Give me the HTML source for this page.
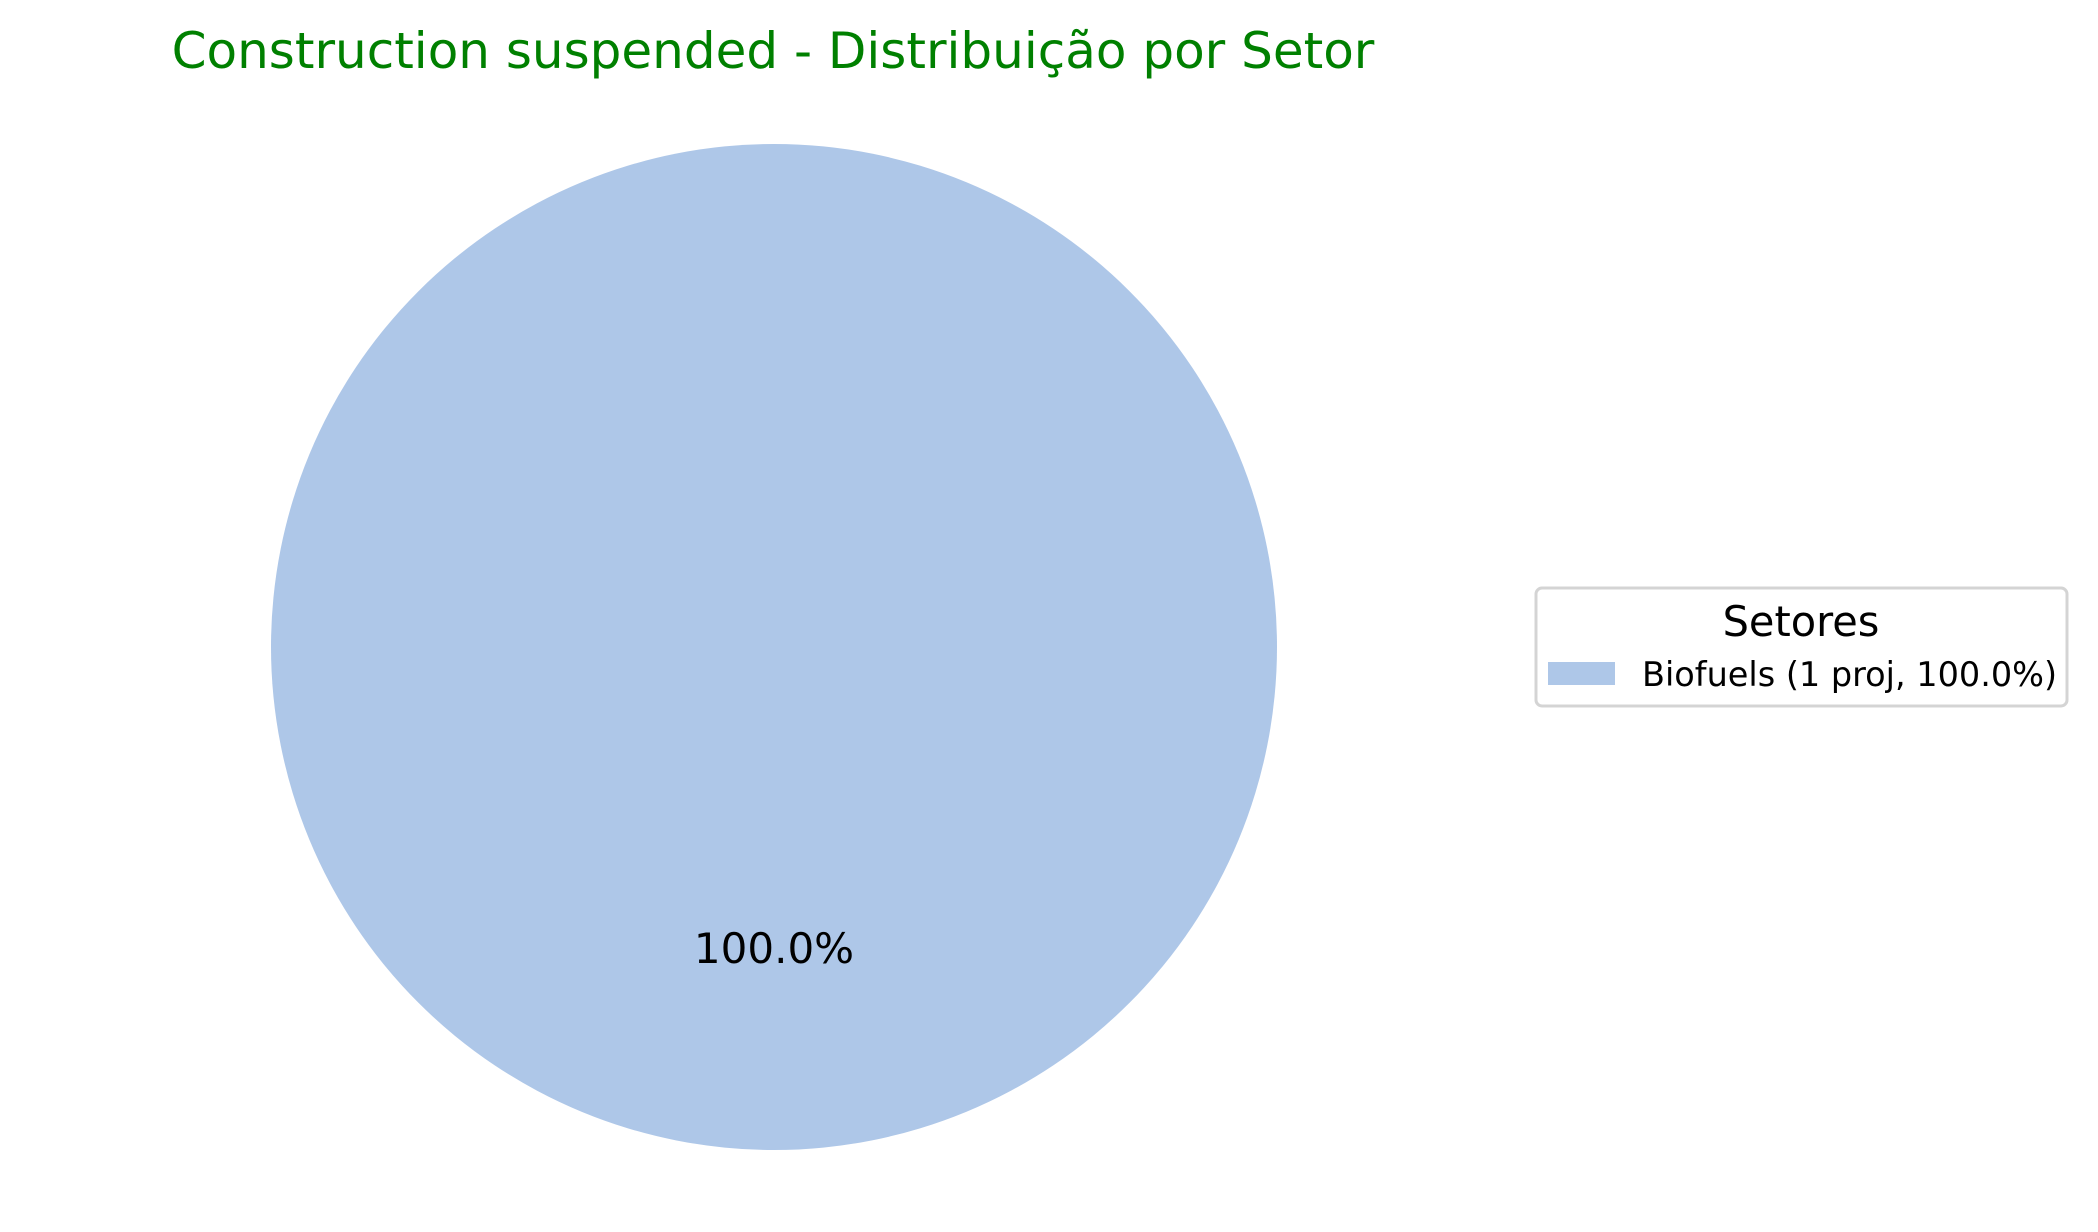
<!DOCTYPE html>
<html><head><meta charset="utf-8"><style>
html,body{margin:0;padding:0;background:#fff;}
svg{display:block;font-family:"DejaVu Sans","Liberation Sans",sans-serif;}
</style></head><body>
<svg id="chart" width="2098" height="1232" viewBox="0 0 2098 1232">
<text x="773" y="68" text-anchor="middle" font-size="50" fill="#008000">Construction suspended - Distribuição por Setor</text>
<g id="slices"></g>
<g id="legend">
<rect x="1536" y="588" width="531" height="118" rx="6" fill="#fff" stroke="#d4d4d4" stroke-width="3"/>
<text x="1801" y="636" text-anchor="middle" font-size="41.5" fill="#000">Setores</text>
</g>
</svg>
<script>
const categories = ["Biofuels"];
const counts = [1];
const colors = ["#aec7e8"];
const cx = 774, cy = 647, r = 503;
const ns = "http://www.w3.org/2000/svg";
const total = counts.reduce((a,b)=>a+b,0);
const slices = document.getElementById('slices');
const legend = document.getElementById('legend');
let ang = 90;
counts.forEach((v,i)=>{
  const frac = v/total;
  const sweep = frac*360;
  const a0 = ang*Math.PI/180, a1 = (ang+sweep)*Math.PI/180;
  let el;
  if (frac >= 0.9999) {
    el = document.createElementNS(ns,'circle');
    el.setAttribute('cx',cx); el.setAttribute('cy',cy); el.setAttribute('r',r);
  } else {
    el = document.createElementNS(ns,'path');
    const x0=cx+r*Math.cos(a0), y0=cy-r*Math.sin(a0), x1=cx+r*Math.cos(a1), y1=cy-r*Math.sin(a1);
    el.setAttribute('d',`M${cx},${cy} L${x0},${y0} A${r},${r} 0 ${sweep>180?1:0} 0 ${x1},${y1} Z`);
  }
  el.setAttribute('fill',colors[i]);
  
  
  slices.appendChild(el);
  const mid = (ang+sweep/2)*Math.PI/180;
  const lt = document.createElementNS(ns,'text');
  lt.setAttribute('x', cx + 0.6*r*Math.cos(mid));
  lt.setAttribute('y', cy - 0.6*r*Math.sin(mid) + 14);
  lt.setAttribute('text-anchor','middle');
  lt.setAttribute('font-size','42');
  lt.textContent = (frac*100).toFixed(1) + '%';
  
  
  slices.appendChild(lt);
  const pr = document.createElementNS(ns,'rect');
  pr.setAttribute('x',1548); pr.setAttribute('y',662+i*46); pr.setAttribute('width',67); pr.setAttribute('height',23);
  pr.setAttribute('fill',colors[i]);
  
  
  legend.appendChild(pr);
  const tx = document.createElementNS(ns,'text');
  tx.setAttribute('x',1642); tx.setAttribute('y',686+i*46); tx.setAttribute('font-size','33.5');
  tx.textContent = `${categories[i]} (${v} proj, ${(frac*100).toFixed(1)}%)`;
  
  
  legend.appendChild(tx);
  ang += sweep;
});
</script>
</body></html>
